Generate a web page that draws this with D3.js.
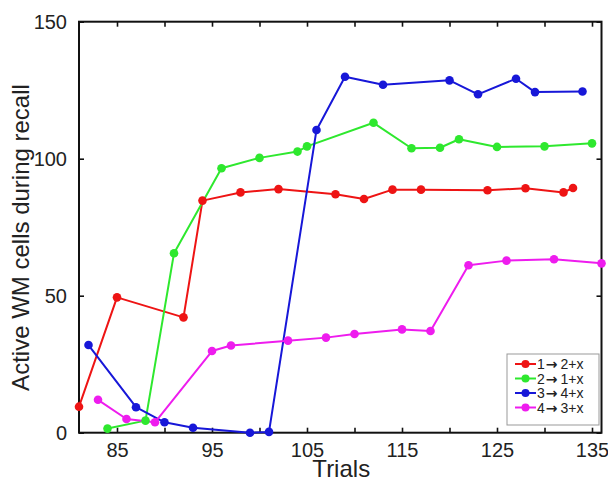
<!DOCTYPE html>
<html>
<head>
<meta charset="utf-8">
<script src="https://cdn.jsdelivr.net/npm/d3@7"></script>
<style>
  html, body { margin: 0; padding: 0; background: #fff; }
  svg { display: block; font-family: "Liberation Sans", Arial, sans-serif; }
</style>
</head>
<body>
<svg id="chart" width="608" height="483"></svg>
<script>
// ---- data ----
const seriesFrom = ["1", "2", "3", "4"];
const seriesTo = ["2+x", "1+x", "4+x", "3+x"];
const seriesColors = ["#ee1414", "#2ee82e", "#1717d8", "#ee1cee"];

const redTrials   = [81, 85, 92, 94, 98, 102, 108, 111, 114, 117, 124, 128, 132, 133];
const redValues   = [9.5, 49.4, 42.1, 84.7, 87.7, 88.9, 87.0, 85.3, 88.7, 88.7, 88.5, 89.2, 87.7, 89.3];

const greenTrials = [84, 88, 91, 96, 100, 104, 105, 112, 116, 119, 121, 125, 130, 135];
const greenValues = [1.5, 4.4, 65.5, 96.5, 100.3, 102.6, 104.5, 113.1, 103.8, 104.0, 107.1, 104.3, 104.5, 105.6];

const blueTrials  = [82, 87, 90, 93, 99, 101, 106, 109, 113, 120, 123, 127, 129, 134];
const blueValues  = [32.0, 9.3, 3.8, 1.8, 0.0, 0.3, 110.5, 129.9, 127.0, 128.6, 123.5, 129.2, 124.3, 124.5];

const magTrials   = [83, 86, 89, 95, 97, 103, 107, 110, 115, 118, 122, 126, 131, 136];
const magValues   = [12.0, 5.0, 3.8, 29.8, 31.8, 33.6, 34.7, 36.0, 37.7, 37.1, 61.1, 62.8, 63.3, 61.8];

const xDomain = [81, 136];
const yDomain = [0, 150];
const xTicks = [85, 90, 95, 100, 105, 110, 115, 120, 125, 130, 135];
const xTickLabels = [85, 95, 105, 115, 125, 135];
const yTicks = [0, 50, 100, 150];

const xLabel = "Trials";
const yLabel = "Active WM cells during recall";

// ---- layout ----
const svg = d3.select("#chart");
const L = 79, R = 601.5, T = 21.7, B = 432.7;
const x = d3.scaleLinear().domain(xDomain).range([L, R]);
const y = d3.scaleLinear().domain(yDomain).range([B, T]);

const series = [
  {trials: redTrials, values: redValues},
  {trials: greenTrials, values: greenValues},
  {trials: blueTrials, values: blueValues},
  {trials: magTrials, values: magValues}
].map((s, i) => ({
  from: seriesFrom[i],
  to: seriesTo[i],
  color: seriesColors[i],
  points: s.trials.map((t, j) => ({t, v: s.values[j]}))
}));

// ---- axes (MATLAB-like box with inward ticks) ----
const tickLen = 5;
const axisFont = 20;

const xAxisB = d3.axisBottom(x).tickValues(xTicks).tickSizeInner(-tickLen).tickSizeOuter(0)
  .tickPadding(10).tickFormat(d => xTickLabels.includes(d) ? d : "");
const xAxisT = d3.axisTop(x).tickValues(xTicks).tickSizeInner(-tickLen).tickSizeOuter(0).tickFormat("");
const yAxisL = d3.axisLeft(y).tickValues(yTicks).tickSizeInner(-tickLen).tickSizeOuter(0).tickPadding(12);
const yAxisR = d3.axisRight(y).tickValues(yTicks).tickSizeInner(-tickLen).tickSizeOuter(0).tickFormat("");

function styleAxis(g) {
  g.select(".domain").remove();
  g.selectAll(".tick line").attr("stroke", "#111").attr("stroke-width", 1.6);
  g.selectAll(".tick text").attr("fill", "#222").attr("font-size", axisFont)
    .attr("font-family", '"Liberation Sans", Arial, sans-serif');
}

svg.append("g").attr("transform", `translate(0,${B})`).call(xAxisB).call(styleAxis);
svg.append("g").attr("transform", `translate(0,${T})`).call(xAxisT).call(styleAxis);
svg.append("g").attr("transform", `translate(${L},0)`).call(yAxisL).call(styleAxis);
svg.append("g").attr("transform", `translate(${R},0)`).call(yAxisR).call(styleAxis);

// box
svg.append("rect").attr("x", L).attr("y", T).attr("width", R - L).attr("height", B - T)
  .attr("fill", "none").attr("stroke", "#111").attr("stroke-width", 2);

// ---- lines & markers ----
const line = d3.line().x(d => x(d.t)).y(d => y(d.v));
const gData = svg.append("g");
series.forEach(s => {
  gData.append("path").datum(s.points).attr("d", line)
    .attr("fill", "none").attr("stroke", s.color).attr("stroke-width", 2)
    .attr("stroke-linejoin", "round");
});
series.forEach(s => {
  gData.selectAll(null).data(s.points).enter().append("circle")
    .attr("cx", d => x(d.t)).attr("cy", d => y(d.v)).attr("r", 4.3)
    .attr("fill", s.color);
});

// ---- axis labels ----
svg.append("text").attr("x", (L + R) / 2 + 1).attr("y", 477)
  .attr("text-anchor", "middle").attr("font-size", 24).attr("fill", "#222").text(xLabel);
svg.append("text").attr("transform", `translate(29,237.5) rotate(-90)`)
  .attr("text-anchor", "middle").attr("font-size", 24).attr("fill", "#222").text(yLabel);

// ---- legend ----
const lg = svg.append("g");
const lgX = 507, lgY = 354, lgW = 92, lgH = 71;
lg.append("rect").attr("x", lgX).attr("y", lgY).attr("width", lgW).attr("height", lgH)
  .attr("fill", "#fff").attr("stroke", "#999").attr("stroke-width", 1);
series.forEach((s, i) => {
  const cy = lgY + 10 + i * 14.5;
  lg.append("line").attr("x1", lgX + 8).attr("x2", lgX + 29).attr("y1", cy).attr("y2", cy)
    .attr("stroke", s.color).attr("stroke-width", 2);
  lg.append("circle").attr("cx", lgX + 18.5).attr("cy", cy).attr("r", 4).attr("fill", s.color);
  const t = lg.append("text").attr("x", lgX + 30).attr("y", cy + 5)
    .attr("font-size", 14).attr("fill", "#222");
  t.append("tspan").text(s.from);
  t.append("tspan").attr("dx", 1).attr("font-weight", "bold")
    .attr("font-family", '"DejaVu Sans", sans-serif').text("\u2192");
  t.append("tspan").attr("dx", 3).text(s.to);
});
</script>
</body>
</html>
